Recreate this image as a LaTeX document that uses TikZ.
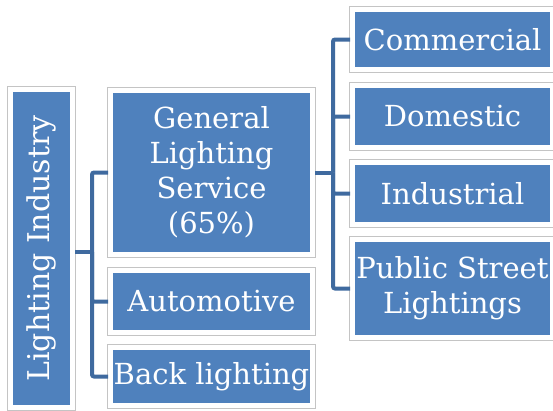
\documentclass[tikz,border=0pt]{standalone}
\usepackage{fontspec}
\setmainfont{DejaVu Serif}
\usepackage{tikz}

\definecolor{boxblue}{HTML}{4F81BD}
\definecolor{linkblue}{HTML}{3F6A9F}
\definecolor{framegray}{HTML}{C4C4C4}

\begin{document}
\begin{tikzpicture}[x=1pt, y=-1pt,
  box/.style={fill=boxblue, draw=white, line width=5pt, text=white,
    preaction={draw=framegray, line width=6.6pt},
    align=center, inner sep=0pt, minimum width=200pt,
    font=\fontsize{29}{35}\selectfont},
  link/.style={draw=linkblue, line width=4pt, rounded corners=2pt}]
  \useasboundingbox (0,0) rectangle (553,410);

  % first level
  \node[box, rotate=90, minimum width=318pt, minimum height=62pt,
    font=\fontsize{30}{35}\selectfont] (root) at (41.5,248.5) {Lighting Industry};
  \node[box, minimum width=202pt, minimum height=164pt] (gls) at (211.5,172.5)
    {General\\Lighting\\Service\\(65\%)};
  \node[box, minimum width=202pt, minimum height=62pt] (auto) at (211.5,301.5) {Automotive};
  \node[box, minimum width=202pt, minimum height=58pt] (back) at (211.5,376.5) {Back lighting};

  % second level
  \node[box, minimum height=60pt] (comm) at (452.5,39.5) {Commercial};
  \node[box, minimum height=62pt] (dom) at (452.5,116.5) {Domestic};
  \node[box, minimum height=62pt] (ind) at (452.5,193.5) {Industrial};
  \node[box, minimum height=98pt] (pub) at (452.5,288.5) {Public Street\\Lightings};

  % connectors
  \coordinate (bus1) at (92,252);
  \coordinate (bus2) at (333,172.5);
  \draw[link] (bus1 -| root.south) -- (bus1);
  \draw[link] (bus1) |- (gls.west);
  \draw[link] (bus1) |- (auto.west);
  \draw[link] (bus1) |- (back.west);
  \draw[link] (gls.east) -- (bus2);
  \draw[link] (bus2) |- (comm.west);
  \draw[link] (bus2) |- (dom.west);
  \draw[link] (bus2) |- (ind.west);
  \draw[link] (bus2) |- (pub.west);
\end{tikzpicture}
\end{document}
